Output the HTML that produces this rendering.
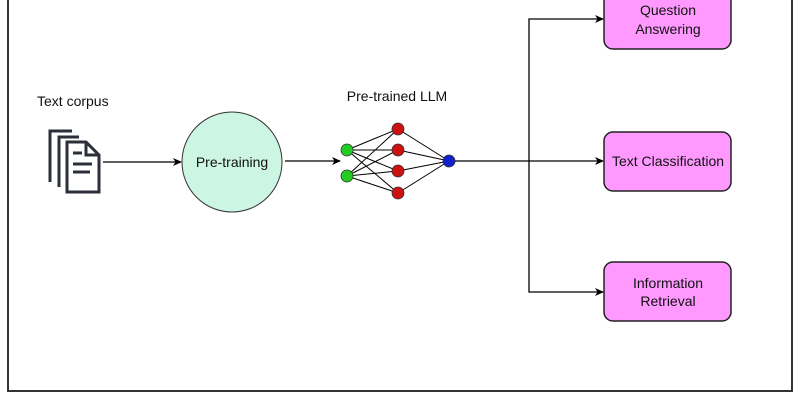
<!DOCTYPE html>
<html><head><style>body{margin:0;background:#fff}svg{display:block}</style></head><body>
<svg width="800" height="400" xmlns="http://www.w3.org/2000/svg" font-family="Liberation Sans, sans-serif">
<defs><marker id="a" markerWidth="10" markerHeight="10" refX="8" refY="4" orient="auto" markerUnits="userSpaceOnUse"><path d="M0,0 L9,4 L0,8 L2.5,4 z" fill="#000"/></marker></defs>
<path d="M8,0 V391 H792 V0" fill="none" stroke="#333" stroke-width="2"/>
<text x="37" y="106" font-size="14" fill="#111">Text corpus</text>
<text x="397" y="101" font-size="14" text-anchor="middle" fill="#111">Pre-trained LLM</text>
<!-- doc icon -->
<g fill="none" stroke="#2a2f3a" stroke-width="3">
<path d="M50,182 V131 H72"/>
<path d="M59,187 V137 H79"/>
<path d="M67,192 V142 H86 L99,155 V192 Z"/>
<path d="M86,142 V155 H99"/>
<path d="M73,153 H82 M73,164 H92 M73,172 H90"/>
</g>
<line x1="103" y1="162" x2="181" y2="162" stroke="#000" stroke-width="1.3" marker-end="url(#a)"/>
<circle cx="232" cy="162" r="50" fill="#ccf5e4" stroke="#333" stroke-width="1"/>
<text x="232" y="167" font-size="14" text-anchor="middle" fill="#111">Pre-training</text>
<line x1="285" y1="161" x2="340" y2="161" stroke="#000" stroke-width="1.3" marker-end="url(#a)"/>
<g stroke="#000" stroke-width="1">
<path d="M347,150 L398,129 M347,150 L398,150 M347,150 L398,171 M347,150 L398,193 M347,176 L398,129 M347,176 L398,150 M347,176 L398,171 M347,176 L398,193 M398,129 L449,161 M398,150 L449,161 M398,171 L449,161 M398,193 L449,161"/>
</g>
<g stroke="#333" stroke-width="0.8">
<circle cx="347" cy="150" r="6" fill="#22cc22"/><circle cx="347" cy="176" r="6" fill="#22cc22"/>
<circle cx="398" cy="129" r="6" fill="#cc1111"/><circle cx="398" cy="150" r="6" fill="#cc1111"/>
<circle cx="398" cy="171" r="6" fill="#cc1111"/><circle cx="398" cy="193" r="6" fill="#cc1111"/>
<circle cx="449" cy="161" r="6" fill="#1122cc"/>
</g>
<line x1="455" y1="161" x2="603" y2="161" stroke="#000" stroke-width="1.3" marker-end="url(#a)"/>
<path d="M603,19 H529 V292 H603" fill="none" stroke="#000" stroke-width="1.3"/>
<line x1="595" y1="19" x2="603" y2="19" stroke="#000" marker-end="url(#a)"/>
<line x1="595" y1="292" x2="603" y2="292" stroke="#000" marker-end="url(#a)"/>
<g fill="#ff99ff" stroke="#222" stroke-width="1.5">
<rect x="604" y="-10" width="127" height="59" rx="9"/>
<rect x="604" y="132" width="127" height="59" rx="9"/>
<rect x="604" y="262" width="127" height="59" rx="9"/>
</g>
<g font-size="14" text-anchor="middle" fill="#111">
<text x="668" y="15">Question</text><text x="668" y="34">Answering</text>
<text x="668" y="166">Text Classification</text>
<text x="668" y="288">Information</text><text x="668" y="306">Retrieval</text>
</g>
</svg>
</body></html>
